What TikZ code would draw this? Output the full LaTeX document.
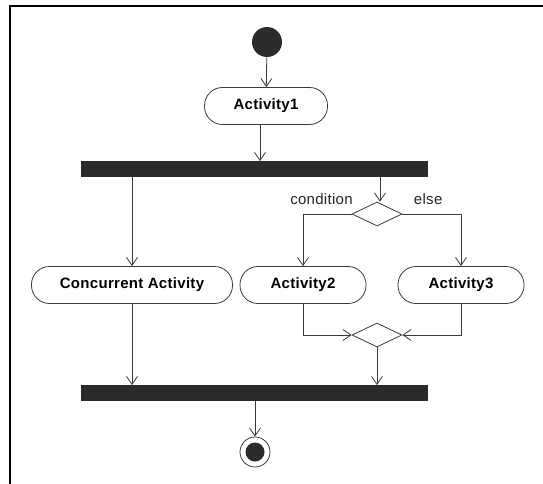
\documentclass[tikz,border=0pt]{standalone}
\usepackage{fontspec}
\setmainfont{Liberation Sans}
\newfontfamily\actfont[LetterSpace=2]{Liberation Sans}
\usetikzlibrary{arrows.meta,shapes.geometric}

\definecolor{linegray}{HTML}{3A3A3A}
\definecolor{barfill}{HTML}{2B2B2B}

\tikzset{
	activity/.style={draw=linegray, rectangle, rounded corners=18pt, minimum width=126pt,
		minimum height=37pt, inner sep=0pt, font=\actfont\fontsize{15}{18}\selectfont\bfseries},
	bar/.style={fill=barfill, draw=barfill, minimum width=346pt, minimum height=15pt, inner sep=0pt},
	decision/.style={draw=linegray, diamond, aspect=2.1, minimum width=50pt, minimum height=24pt, inner sep=0pt},
	initial/.style={circle, fill=barfill, minimum size=30pt, inner sep=0pt},
	final/.style={circle, draw=linegray, minimum size=30pt, inner sep=0pt,
		path picture={\fill[barfill] (path picture bounding box.center) circle (9.5pt);}},
	flow/.style={draw=linegray, line width=0.8pt, -{Straight Barb[length=8pt,width=11pt]}},
	guard/.style={font=\actfont\fontsize{15}{18}\selectfont, text=black!85}
}

\begin{document}
\begin{tikzpicture}[x=1pt, y=-1pt, line width=0.8pt]
		\useasboundingbox (0,0) rectangle (543,484);
		\draw[line width=1.4pt] (10,484) -- (10,6) -- (543,6);

		\node[initial] (start) at (267,42) {};
		\node[activity, minimum width=123pt] (act1) at (266,106) {Activity1};
		\node[bar] (fork) at (254,169) {};
		\node[decision] (dec) at (377,214) {};
		\node[activity, minimum width=201pt] (conc) at (132,285) {Concurrent Activity};
		\node[activity] (act2) at (303,285) {Activity2};
		\node[activity] (act3) at (461,285) {Activity3};
		\node[decision] (merge) at (377,335) {};
		\node[bar] (join) at (254,393) {};
		\node[final] (end) at (255,452) {};

		\draw[flow] (start) -- (act1);
		\draw[flow] ([xshift=-6pt]act1.south) -- ([xshift=-6pt]act1.south |- fork.north);
		\draw[flow] (conc.north |- fork.south) -- (conc.north);
		\draw[flow] ([xshift=3pt]dec.north |- fork.south) -- ([xshift=3pt]dec.north);
		\draw[flow] (dec.west) -| node[guard, pos=0.31, above=6pt] {condition} (act2.north);
		\draw[flow] (dec.east) -| node[guard, pos=0.22, above=6pt] {else} (act3.north);
		\draw[flow] (act2.south) |- (merge.west);
		\draw[flow] (act3.south) |- (merge.east);
		\draw[flow] (conc.south) -- (conc.south |- join.north);
		\draw[flow] (merge.south) -- (merge.south |- join.north);
		\draw[flow] (end |- join.south) -- (end.north);
	\end{tikzpicture}
\end{document}
